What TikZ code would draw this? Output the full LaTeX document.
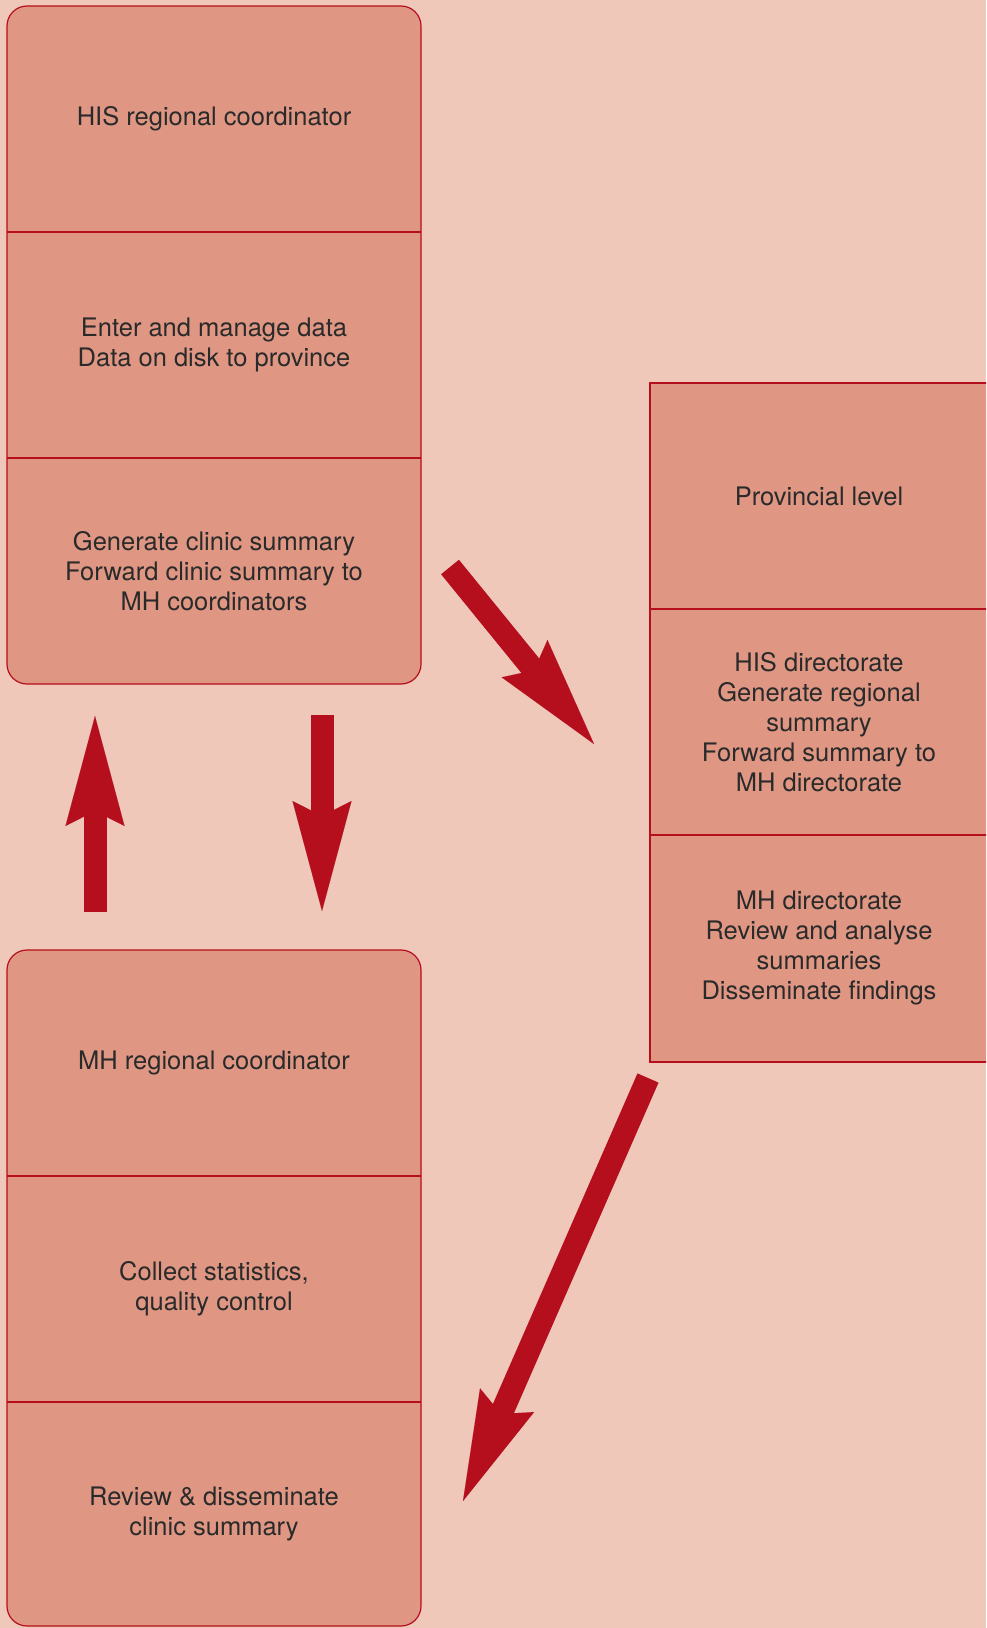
\documentclass[tikz,border=0pt]{standalone}
\usepackage{fontspec}
\setmainfont{TeX Gyre Heros}
\usetikzlibrary{arrows.meta}
\definecolor{pagebg}{RGB}{239,200,185}
\definecolor{cellfill}{RGB}{223,151,132}
\definecolor{flowred}{RGB}{181,14,28}
\definecolor{inkgray}{RGB}{42,42,42}

\begin{document}
\begin{tikzpicture}[x=0.5pt,y=-0.5pt]
  \tikzset{
    frame/.style={draw=flowred,fill=cellfill,line width=0.6pt},
    divider/.style={draw=flowred,line width=0.6pt},
    celltext/.style={align=center,text=inkgray,inner sep=0pt,
      font=\fontsize{12.75}{15}\selectfont},
    flow/.style={draw=flowred,line width=11.5pt,
      -{Stealth[length=55pt,width=29.5pt,inset=7.5pt,line width=0.01pt]}}
  }
  \fill[pagebg] (0,0) rectangle (986,1628);
  \useasboundingbox (0,0) rectangle (986,1628);
  \clip (0,0) rectangle (986,1628);

  % regional HIS column
  \draw[frame,rounded corners=10pt] (7,6) rectangle (421,684);
  \draw[divider] (7,232) -- (421,232);
  \draw[divider] (7,458) -- (421,458);
  \node[celltext] (hisco) at (214,119) {HIS regional coordinator};
  \node[celltext] (entry) at (214,345) {Enter and manage data\\Data on disk to province};
  \node[celltext] (clinsum) at (214,571)
    {Generate clinic summary\\Forward clinic summary to\\MH coordinators};

  % provincial column
  \draw[frame] (650,383) rectangle (988,1062);
  \draw[divider] (650,609) -- (988,609);
  \draw[divider] (650,835) -- (988,835);
  \node[celltext] (prov) at (819,496) {Provincial level};
  \node[celltext] (hisdir) at (819,722)
    {HIS directorate\\Generate regional\\summary\\Forward summary to\\MH directorate};
  \node[celltext] (mhdir) at (819,948)
    {MH directorate\\Review and analyse\\summaries\\Disseminate findings};

  % regional MH column
  \draw[frame,rounded corners=10pt] (7,950) rectangle (421,1626);
  \draw[divider] (7,1176) -- (421,1176);
  \draw[divider] (7,1402) -- (421,1402);
  \node[celltext] (mhco) at (214,1063) {MH regional coordinator};
  \node[celltext] (stats) at (214,1289) {Collect statistics,\\quality control};
  \node[celltext] (review) at (214,1514) {Review \& disseminate\\clinic summary};

  % flow arrows
  \coordinate (upfrom) at (95,912);   \coordinate (upto) at (95,716);
  \coordinate (dnfrom) at (322,715);  \coordinate (dnto) at (322,911);
  \coordinate (provfrom) at (450,567); \coordinate (provto) at (594,744);
  \coordinate (backfrom) at (648,1078); \coordinate (backto) at (463,1501);
  \draw[flow] (upfrom) -- (upto);
  \draw[flow] (dnfrom) -- (dnto);
  \draw[flow] (provfrom) -- (provto);
  \draw[flow] (backfrom) -- (backto);
\end{tikzpicture}
\end{document}
